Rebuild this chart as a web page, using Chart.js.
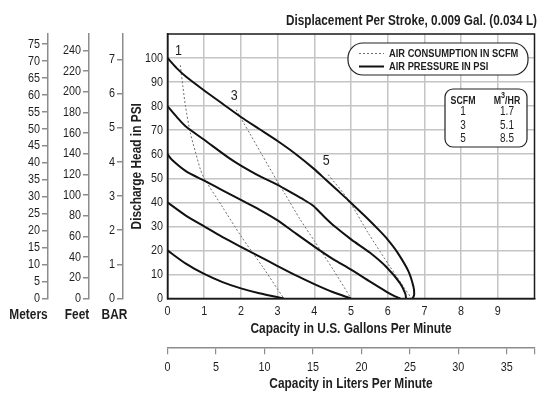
<!DOCTYPE html>
<html><head><meta charset="utf-8">
<script src="https://cdn.jsdelivr.net/npm/chart.js@4/dist/chart.umd.min.js"></script>
<style>html,body{margin:0;padding:0;background:#fff}canvas{display:block}</style>
</head><body>
<canvas id="c" width="550" height="397"></canvas>
<script>
// ---- tick labels ----
const GPM_TICKS = [0,1,2,3,4,5,6,7,8,9];
const LPM_TICKS = [0,5,10,15,20,25,30,35];
const PSI_TICKS = [0,10,20,30,40,50,60,70,80,90,100];
const METER_TICKS = [0,5,10,15,20,25,30,35,40,45,50,55,60,65,70,75];
const FEET_TICKS = [0,20,40,60,80,100,120,140,160,180,200,220,240];
const BAR_TICKS = [0,1,2,3,4,5,6,7];

// ---- air pressure curves (PSI) ----
const P100_GPM = [0,0.25,0.5,1.0,1.5,2.0,2.5,3.0,3.5,4.0,4.3,4.6,4.93,5.4,5.79,6.0,6.25,6.56,6.70,6.72,6.68];
const P100_PSI = [100,95.8,92.3,86.5,81,75.5,70.5,65.5,60,53.8,49.6,45.4,40.8,34,28,24.5,19.5,11.5,5,1.5,0];
const P80_GPM = [0,0.25,0.5,1.0,1.67,2.0,2.5,3.0,3.4,3.7,3.97,4.11,4.29,4.56,5.02,5.52,5.97,6.34,6.48,6.5];
const P80_PSI = [80,75.5,71.5,66,58.5,55.3,51,47.3,43.8,41.2,38.6,36.5,33.7,29.9,24.4,19,13,6.3,2,0];
const P60_GPM = [0,0.12,0.5,1.0,1.5,2.0,2.5,3.0,3.5,4.0,4.5,5.0,5.52,5.97,6.2,6.34];
const P60_PSI = [60,57.7,53,49,45,41,37,32.5,27,21.6,16.5,12,7,2.8,0.9,0];
const P40_GPM = [0,0.5,1.0,1.5,2.0,2.5,3.0,3.5,4.0,4.5,5.0];
const P40_PSI = [40,34.5,30,25.5,21.5,17.5,13.5,9.6,6,2.7,0];
const P20_GPM = [0,0.5,1.0,1.5,2.0,2.5,3.17];
const P20_PSI = [20,14.5,10.2,6.8,4.2,2.2,0];

// ---- air consumption curves (SCFM) ----
const AIR_LABELS = ['1','3','5'];
const AIR1_GPM = [0.35,0.42,0.49,0.62,0.76,0.9,1.0,1.5,2.0,2.6,3.17];
const AIR1_PSI = [97,88,80,69,61,53.5,50,38,26,13,0];
const AIR3_GPM = [1.87,2.08,2.25,2.57,3.0,3.2,3.61,4.0,4.52,5.0];
const AIR3_PSI = [78.5,72.9,68.4,59.9,48.5,43.5,33,24,11.9,0];
const AIR5_GPM = [4.38,4.93,5.47,6.06,6.43,6.65];
const AIR5_PSI = [51.5,41,27.2,13.3,4.9,0];

// ---- conversion table ----
const TABLE_SCFM = ['1','3','5'];
const TABLE_M3HR = ['1.7','5.1','8.5'];

const FONT = "'Liberation Sans', Arial, Helvetica, sans-serif";
const TXT = '#1e1e1e';
const pts = (xs, ys) => xs.map((x, i) => ({x, y: ys[i]}));
const setTicks = arr => scale => { scale.ticks = arr.map(v => ({value: v})); };

const solid = (xs, ys) => ({data: pts(xs, ys), xAxisID: 'x', yAxisID: 'y', showLine: true, borderColor: '#111', borderWidth: 2, pointRadius: 0, tension: 0.25, fill: false});
const dotted = (xs, ys) => ({data: pts(xs, ys), xAxisID: 'x', yAxisID: 'y', showLine: true, borderColor: '#707070', borderWidth: 1, borderDash: [2,2], pointRadius: 0, tension: 0.25, fill: false});

const airSeries = [[AIR1_GPM, AIR1_PSI],[AIR3_GPM, AIR3_PSI],[AIR5_GPM, AIR5_PSI]];

// condensed text (narrow Helvetica look)
function txt(ctx, s, x, y, o = {}) {
  const size = o.size || 13, weight = o.weight || 'normal', align = o.align || 'center';
  const sq = o.sq || 0.83;
  ctx.save();
  ctx.translate(x, y);
  if (o.rot) ctx.rotate(o.rot);
  ctx.scale(sq, 1);
  ctx.font = weight + ' ' + size + 'px ' + FONT;
  ctx.fillStyle = o.color || TXT;
  ctx.textAlign = align; ctx.textBaseline = 'middle';
  ctx.fillText(s, 0, 0);
  ctx.restore();
}
function txtWidth(ctx, s, size, weight, sq) {
  ctx.save(); ctx.font = weight + ' ' + size + 'px ' + FONT;
  const w = ctx.measureText(s).width * sq; ctx.restore(); return w;
}

function roundRect(ctx, x, y, w, h, r) {
  ctx.beginPath();
  ctx.moveTo(x + r, y);
  ctx.arcTo(x + w, y, x + w, y + h, r);
  ctx.arcTo(x + w, y + h, x, y + h, r);
  ctx.arcTo(x, y + h, x, y, r);
  ctx.arcTo(x, y, x + w, y, r);
  ctx.closePath();
}

const decor = {
  id: 'decor',
  afterDraw(chart) {
    const {ctx, chartArea: a, scales} = chart;
    const sx = scales.x, sy = scales.y;
    ctx.save();
    // curve labels
    airSeries.forEach((s, i) => {
      const px = sx.getPixelForValue(s[0][0]) - 2;
      const py = sy.getPixelForValue(s[1][0]) - 14;
      txt(ctx, AIR_LABELS[i], px, py, {size: 15});
    });
    // legend
    roundRect(ctx, 348, 43, 180, 32, 15);
    ctx.fillStyle = '#fff'; ctx.fill();
    ctx.strokeStyle = '#222'; ctx.lineWidth = 1.2; ctx.stroke();
    ctx.setLineDash([2,2]); ctx.strokeStyle = '#707070'; ctx.lineWidth = 1;
    ctx.beginPath(); ctx.moveTo(359, 53.5); ctx.lineTo(384, 53.5); ctx.stroke();
    ctx.setLineDash([]); ctx.strokeStyle = '#111'; ctx.lineWidth = 2;
    ctx.beginPath(); ctx.moveTo(359, 66.5); ctx.lineTo(384, 66.5); ctx.stroke();
    txt(ctx, 'AIR CONSUMPTION IN SCFM', 389, 53.5, {size: 11.5, weight: 'bold', align: 'left', sq: 0.81});
    txt(ctx, 'AIR PRESSURE IN PSI', 389, 66.5, {size: 11.5, weight: 'bold', align: 'left', sq: 0.81});
    // table
    roundRect(ctx, 445, 89, 82, 58, 8);
    ctx.fillStyle = '#fff'; ctx.fill();
    ctx.strokeStyle = '#222'; ctx.lineWidth = 1.2; ctx.stroke();
    txt(ctx, 'SCFM', 463, 100.5, {size: 11, weight: 'bold', sq: 0.8});
    const wm = txtWidth(ctx, 'M', 11, 'bold', 0.8), wh = txtWidth(ctx, '/HR', 11, 'bold', 0.8);
    const w3 = txtWidth(ctx, '3', 9, 'bold', 0.8);
    const x0 = 507 - (wm + w3 + wh) / 2;
    txt(ctx, 'M', x0, 100.5, {size: 11, weight: 'bold', sq: 0.8, align: 'left'});
    txt(ctx, '3', x0 + wm, 96, {size: 9, weight: 'bold', sq: 0.8, align: 'left'});
    txt(ctx, '/HR', x0 + wm + w3, 100.5, {size: 11, weight: 'bold', sq: 0.8, align: 'left'});
    TABLE_SCFM.forEach((v, i) => {
      const y = 112 + i * 13.5;
      txt(ctx, v, 463, y, {size: 12});
      txt(ctx, TABLE_M3HR[i], 507, y, {size: 12});
    });
    // frame
    ctx.strokeStyle = '#1a1a1a'; ctx.lineWidth = 1.5;
    ctx.strokeRect(a.left, a.top, a.right - a.left, a.bottom - a.top);
    // tick labels, through the library's scales
    const lab = (scale, list, fmt) => list.forEach(v => {
      const p = scale.getPixelForValue(v);
      fmt(String(v), p);
    });
    lab(sx, GPM_TICKS, (s, p) => txt(ctx, s, p, sx.top + 13.2, {size: 13}));
    const sl = scales.lpm;
    lab(sl, LPM_TICKS, (s, p) => txt(ctx, s, p, sl.top + 19.7, {size: 13}));
    lab(sy, PSI_TICKS, (s, p) => txt(ctx, s, sy.right - 4.5, p, {size: 13, align: 'right'}));
    [['meters', METER_TICKS], ['feet', FEET_TICKS], ['bar', BAR_TICKS]].forEach(([id, list]) => {
      const sc = scales[id];
      lab(sc, list, (s, p) => txt(ctx, s, sc.right - 8, p, {size: 13, align: 'right'}));
    });
    // titles
    txt(ctx, 'Displacement Per Stroke, 0.009 Gal. (0.034 L)', 537, 21.5, {size: 14, weight: 'bold', align: 'right', sq: 0.84});
    txt(ctx, 'Capacity in U.S. Gallons Per Minute', (a.left + a.right) / 2, 329, {size: 14, weight: 'bold', sq: 0.85});
    txt(ctx, 'Capacity in Liters Per Minute', (a.left + a.right) / 2, 384, {size: 14, weight: 'bold', sq: 0.85});
    txt(ctx, 'Discharge Head in PSI', 137, (a.top + a.bottom) / 2, {size: 14, weight: 'bold', sq: 0.85, rot: -Math.PI / 2});
    txt(ctx, 'Meters', 28.5, 315, {size: 14, weight: 'bold', sq: 0.85});
    txt(ctx, 'Feet', 77, 315, {size: 14, weight: 'bold', sq: 0.85});
    txt(ctx, 'BAR', 114.5, 315, {size: 14, weight: 'bold', sq: 0.85});
    ctx.restore();
  }
};

const sideAxis = (weight, max, ticks, width) => ({
  type: 'linear', position: 'left', weight, min: 0, max,
  afterBuildTicks: setTicks(ticks),
  afterFit: s => { s.width = width; },
  grid: {drawOnChartArea: false, drawTicks: true, tickLength: 6, color: '#8c8c8c', lineWidth: 1.5},
  border: {display: true, color: '#8c8c8c', width: 1.5},
  ticks: {display: false}
});

new Chart(document.getElementById('c'), {
  type: 'scatter',
  data: {datasets: [
    solid(P100_GPM, P100_PSI), solid(P80_GPM, P80_PSI), solid(P60_GPM, P60_PSI),
    solid(P40_GPM, P40_PSI), solid(P20_GPM, P20_PSI),
    dotted(AIR1_GPM, AIR1_PSI), dotted(AIR3_GPM, AIR3_PSI), dotted(AIR5_GPM, AIR5_PSI)
  ]},
  options: {
    responsive: false, animation: false, devicePixelRatio: 1,
    layout: {padding: {left: 0, right: 15.5, top: 34, bottom: 0}},
    plugins: {legend: {display: false}, tooltip: {enabled: false}, title: {display: false}},
    scales: {
      x: {
        type: 'linear', position: 'bottom', weight: 0, min: 0, max: 10,
        afterBuildTicks: setTicks(GPM_TICKS),
        afterFit: s => { s.height = 48.8; },
        grid: {color: '#c4c4c4', lineWidth: 1.5, drawTicks: false},
        border: {display: true, color: '#1a1a1a', width: 1.5},
        ticks: {display: false}
      },
      lpm: {
        type: 'linear', position: 'bottom', weight: 10, min: 0, max: 37.854,
        afterBuildTicks: s => { s.ticks = LPM_TICKS.map(v => ({value: v})).concat([{value: 37.854}]); },
        afterFit: s => { s.height = 49.7; },
        grid: {drawOnChartArea: false, drawTicks: true, tickLength: 7, color: '#8c8c8c', lineWidth: 1.2},
        border: {display: true, color: '#8c8c8c', width: 1.5},
        ticks: {display: false}
      },
      meters: sideAxis(30, 78, METER_TICKS, 48),
      feet: sideAxis(20, 256, FEET_TICKS, 41),
      bar: sideAxis(10, 7.75, BAR_TICKS, 34),
      y: {
        type: 'linear', position: 'left', weight: 0, min: 0, max: 110,
        afterBuildTicks: setTicks(PSI_TICKS),
        afterFit: s => { s.width = 44.5; },
        grid: {color: '#c4c4c4', lineWidth: 1.5, drawTicks: false},
        border: {display: true, color: '#1a1a1a', width: 1.5},
        ticks: {display: false}
      }
    }
  },
  plugins: [decor]
});
</script>
</body></html>
